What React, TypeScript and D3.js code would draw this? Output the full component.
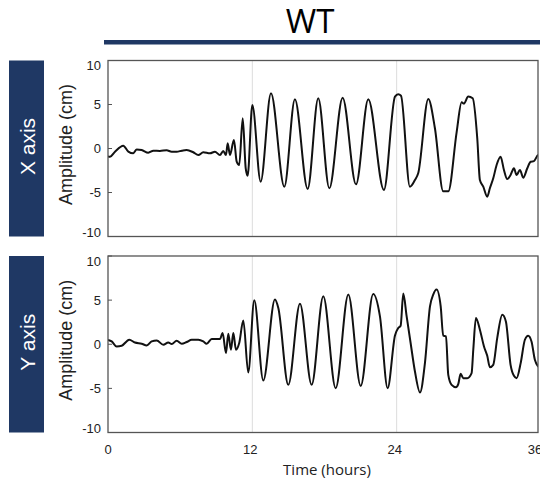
import React from "react";
import * as d3 from "d3";

// ---- data (hours, cm) ----
const xAxisSeries: [number, number][] = [
  [0, -0.9], [0.17, -0.93], [0.58, -0.36], [1.27, 0.32], [1.69, -0.36], [2.1, -0.55], [2.39, -0.1],
  [2.8, -0.17], [3.35, -0.47], [3.77, -0.25], [4.32, -0.28], [4.88, -0.2], [5.29, -0.36], [5.71, -0.36],
  [6.13, -0.25], [6.54, -0.17], [7.09, -0.43], [7.51, -0.74], [7.92, -0.43], [8.48, -0.55], [8.89, -0.36],
  [9.31, -0.74], [9.58, -0.28], [9.81, -0.74], [9.95, 0.59], [10.14, -0.74], [10.47, 0.97], [10.7, -1.5],
  [10.91, -1.87], [11.2, 3.43], [11.45, -2.25], [11.61, -3.09], [12.0, 4.94], [12.69, -3.77], [13.55, 6.27],
  [14.66, -4.34], [15.54, 5.59], [16.6, -4.6], [17.48, 5.7], [18.4, -4.52], [19.51, 5.77], [20.62, -4.07],
  [21.64, 5.59], [22.94, -4.72], [23.86, 5.9], [24.13, 6.16], [24.36, 6.0], [25.1, -4.34], [25.52, -3.58],
  [25.79, -2.82], [26.63, 5.63], [27.18, 2.3], [27.87, -4.87], [28.29, -4.87], [28.99, 1.9], [29.4, 5.25],
  [29.59, 5.1], [29.95, 5.9], [30.32, 5.7], [30.7, 1.16], [30.92, -3.58], [31.2, -4.34], [31.53, -5.47],
  [31.75, -4.52], [32.03, -3.39], [32.31, -1.87], [32.64, -0.93], [32.92, -2.44], [33.19, -3.47],
  [33.47, -3.01], [33.75, -2.25], [33.97, -3.01], [34.25, -2.44], [34.52, -3.32], [34.86, -2.25],
  [35.14, -1.5], [35.41, -1.43], [35.77, -0.74], [36, -0.85],
];

const yAxisSeries: [number, number][] = [
  [0, 0.5], [0.31, 0.32], [0.72, -0.25], [1.14, -0.17], [1.77, 0.51], [2.24, 0.2], [2.8, 0.06],
  [3.22, -0.14], [3.63, 0.32], [4.05, 0.43], [4.6, -0.06], [5.01, 0.2], [5.3, 0.02], [5.71, 0.4],
  [6.13, 0.06], [6.54, 0.25], [6.96, 0.51], [7.51, 0.51], [7.92, 0.32], [8.2, 0.06], [8.62, 0.59],
  [9.31, 0.59], [9.53, 1.27], [9.81, -1.0], [10.0, 1.19], [10.22, -0.62], [10.42, 1.27], [10.64, -0.62],
  [10.91, 0.14], [11.25, 2.7], [11.66, -3.2], [12.16, 4.98], [12.91, -4.11], [13.88, 5.06], [14.16, 4.1],
  [14.99, -4.6], [15.96, 4.6], [16.93, -4.6], [17.9, 5.43], [18.93, -4.98], [19.98, 5.63], [21.01, -4.72],
  [22.05, 5.7], [22.61, 3.16], [23.25, -4.98], [23.86, 1.0], [24.13, 1.84], [24.33, 2.1], [24.55, 5.74],
  [24.83, 3.16], [25.16, 0.14], [25.52, -3.09], [25.94, -5.47], [26.35, -2.14], [26.77, 4.3], [27.04, 5.63],
  [27.32, 6.19], [27.66, 4.3], [27.87, 0.97], [28.1, 0.89], [28.29, -3.47], [28.57, -4.6], [28.93, -4.87],
  [29.12, -4.52], [29.32, -3.35], [29.53, -3.84], [29.87, -3.84], [30.23, -3.27], [30.37, -0.62],
  [30.59, 2.98], [30.92, 1.65], [31.26, -0.25], [31.53, -1.31], [31.75, -2.6], [32.03, -2.33],
  [32.36, 0.7], [32.78, 3.35], [33.08, 2.59], [33.47, -2.33], [33.75, -3.58], [33.97, -3.84],
  [34.31, -2.14], [34.66, 0.51], [34.93, 0.97], [35.21, 0.32], [35.49, -1.76], [35.77, -2.52], [36, -2.75],
];

const yTicks = [10, 5, 0, -5, -10];
const xTicks = [0, 12, 24, 36];
const gridHours = [12, 24];
const panelLabels = ["X axis", "Y axis"];
const title = "WT";
const yLabel = "Amplitude (cm)";
const xLabel = "Time (hours)";

const NAVY = "#1f3864";
const LEFT = 108;
const RIGHT = 538;

export default function App() {
  const xScale = d3.scaleLinear().domain([0, 36]).range([108, 541]);
  const panels = [
    { label: panelLabels[0], top: 60.5, bottom: 236.5, data: xAxisSeries },
    { label: panelLabels[1], top: 256, bottom: 432.5, data: yAxisSeries },
  ];
  return (
    <svg
      width={540}
      height={480}
      style={{ position: "absolute", left: 0, top: 0, background: "#fff" }}
    >
      <text
        x={310}
        y={33}
        textAnchor="middle"
        fontFamily="Open Sans, Liberation Sans, sans-serif"
        fontSize={33}
        fill="#000"
      >
        {title}
      </text>
      <rect x={104} y={40} width={436} height={4.5} fill={NAVY} />
      {panels.map((p, i) => {
        const yScale = d3.scaleLinear().domain([-10, 10]).range([p.bottom, p.top]);
        const line = d3
          .line<[number, number]>()
          .x((d) => xScale(d[0]))
          .y((d) => yScale(d[1]))
          .curve(d3.curveMonotoneX);
        const clipId = `clip${i}`;
        const mid = (p.top + p.bottom) / 2;
        return (
          <g key={i}>
            <defs>
              <clipPath id={clipId}>
                <rect x={LEFT} y={p.top} width={RIGHT - LEFT} height={p.bottom - p.top} />
              </clipPath>
            </defs>
            <rect x={9} y={p.top} width={35} height={p.bottom - p.top} fill={NAVY} />
            <text
              transform={`translate(27,${mid - 2}) rotate(-90)`}
              textAnchor="middle"
              dominantBaseline="central"
              fontFamily="Liberation Sans, Arial, sans-serif"
              fontSize={21}
              fill="#fff"
            >
              {p.label}
            </text>
            <text
              transform={`translate(66,${mid - 4}) rotate(-90)`}
              textAnchor="middle"
              dominantBaseline="central"
              fontFamily="Liberation Sans, Arial, sans-serif"
              fontSize={18}
              fill="#222"
            >
              {yLabel}
            </text>
            {gridHours.map((h) => (
              <line
                key={h}
                x1={xScale(h)}
                x2={xScale(h)}
                y1={p.top}
                y2={p.bottom}
                stroke="#dcdcdc"
                strokeWidth={1}
              />
            ))}
            {yTicks.map((t) => {
              const yy = yScale(t);
              const ly = Math.min(Math.max(yy, p.top + 5), p.bottom - 4);
              return (
                <g key={t}>
                  <line x1={LEFT} x2={LEFT + 4} y1={yy} y2={yy} stroke="#555" strokeWidth={1} />
                  <text
                    x={101}
                    y={ly}
                    textAnchor="end"
                    dominantBaseline="central"
                    fontFamily="Liberation Sans, Arial, sans-serif"
                    fontSize={13}
                    fill="#222"
                  >
                    {t}
                  </text>
                </g>
              );
            })}
            <path
              d={line(p.data) || ""}
              fill="none"
              stroke="#111"
              strokeWidth={2}
              strokeLinejoin="round"
              clipPath={`url(#${clipId})`}
            />
            <rect
              x={LEFT}
              y={p.top}
              width={RIGHT - LEFT}
              height={p.bottom - p.top}
              fill="none"
              stroke="#555"
              strokeWidth={1.3}
            />
          </g>
        );
      })}
      {xTicks.map((t) => (
        <text
          key={t}
          x={xScale(t) - (t === 0 ? 0 : t === 36 ? 6 : 2)}
          y={449}
          textAnchor="middle"
          dominantBaseline="central"
          fontFamily="Liberation Sans, Arial, sans-serif"
          fontSize={13}
          fill="#222"
        >
          {t}
        </text>
      ))}
      <text
        x={327}
        y={475}
        textAnchor="middle"
        fontFamily="Open Sans, Noto Sans, sans-serif"
        fontSize={15}
        fill="#222"
      >
        {xLabel}
      </text>
    </svg>
  );
}
